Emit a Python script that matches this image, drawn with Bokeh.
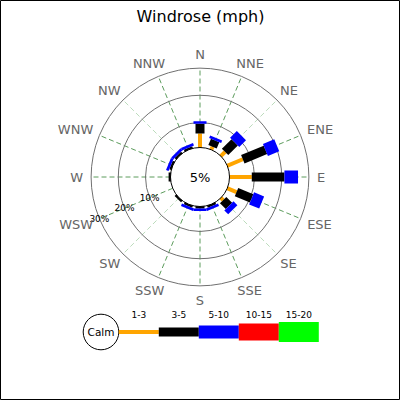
# Windrose (mph) - JpGraph風のウィンドローズをbokehで再現

import numpy as np
from bokeh.core.properties import value
from bokeh.embed import file_html
from bokeh.models import Range1d
from bokeh.plotting import figure
from bokeh.resources import INLINE

# %%
# データ (各方位の風速レンジごとの頻度 %)
directions = ["N", "NNE", "NE", "ENE", "E", "ESE", "SE", "SSE",
              "S", "SSW", "SW", "WSW", "W", "WNW", "NW", "NNW"]
r_1_3 = [6, 2, 3, 7, 9, 4.5, 2, 0.5, 0.5, 0.5, 0.5, 0, 0.5, 0.5, 0.5, 0.5]
r_3_5 = [3.5, 2.5, 5, 9, 12, 6, 3, 1, 1, 1, 1, 0, 1, 1, 1, 1]
r_5_10 = [1, 1, 3.5, 4.5, 5, 4, 2, 1, 1, 1, 0, 0, 0, 1, 1, 1]
calm = 5
ring_values = [10, 20, 30]
range_labels = ["1-3", "3-5", "5-10", "10-15", "15-20"]

# 見た目
range_colors = ["#ffa500", "#000000", "#0000ff", "#ff0000", "#00ff00"]
range_widths = [4, 9, 13, 17, 20]
FONT = "DejaVu Sans"

# スケール: 1データ単位 = 1% , K px / %
W = H = 400
K = 2.72
CX, CY = 199.5, 176.5          # 中心 (px)
BASE = 27.3 / K                # 0% の半径
CALM_R = 29.5 / K              # 中央の円


def px(X, Y):
    return (X - CX) / K, (CY - Y) / K


theta = np.deg2rad(np.arange(16) * 22.5)
ux, uy = np.sin(theta), np.cos(theta)

x_range = Range1d(start=-CX / K, end=(W - CX) / K)
y_range = Range1d(start=-(H - CY) / K, end=CY / K)
p = figure(width=W, height=H, x_range=x_range, y_range=y_range,
           output_backend="svg", toolbar_location=None, min_border=0)
p.axis.visible = False
p.grid.visible = False
p.outline_line_color = "black"
p.background_fill_color = "white"

# %%
# 放射状のグリッド (斜め45度は薄い色)
outer = BASE + ring_values[-1]
spoke_colors = ["#bcdcbc" if i % 4 == 2 else "#5c9c5c" for i in range(16)]
p.segment(CALM_R * ux, CALM_R * uy, outer * ux, outer * uy,
          line_color=spoke_colors, line_dash="5 3", line_width=1)

# 同心円
for v in ring_values:
    p.circle(0, 0, radius=BASE + v, fill_color=None, line_color="#707070", line_width=1)

# %%
# バー
ranges = [r_1_3, r_3_5, r_5_10]
cum = np.zeros(16)
for j, vals in enumerate(ranges):
    vals = np.array(vals, dtype=float)
    r1 = BASE + cum
    r2 = BASE + cum + vals
    keep = vals > 0
    p.segment((r1 * ux)[keep], (r1 * uy)[keep], (r2 * ux)[keep], (r2 * uy)[keep],
              line_color=range_colors[j], line_width=range_widths[j], line_cap="butt")
    cum = cum + vals

# 中央 (Calm)
p.circle(0, 0, radius=CALM_R, fill_color="white", line_color="black", line_width=1)
p.text(0, 0, text=[f"{calm}%"], text_font=value(FONT), text_font_size="13px",
       text_align="center", text_baseline="middle", text_color="black")

# 同心円のラベル (WSW方向)
a = np.deg2rad(247.5)
rr = np.array([BASE + v for v in ring_values])
p.text(rr * np.sin(a), rr * np.cos(a), text=[f"{v}%" for v in ring_values],
       text_font=value(FONT), text_font_size="9px", text_align="center",
       text_baseline="middle", text_color="black")

# 方位ラベル
cw = {"N": 0.748, "E": 0.632, "S": 0.635, "W": 0.989}
lab_fs = 13
lab_w = np.array([sum(cw[c] for c in d) * lab_fs for d in directions])
lab_h = 12
R_LAB = 117 / K
lx = R_LAB * ux + ux * lab_w / 2 / K
ly = R_LAB * uy + uy * lab_h / 2 / K
p.text(lx, ly, text=directions, text_font=value(FONT), text_font_size=f"{lab_fs}px",
       text_align="center", text_baseline="middle", text_color="#666666")

# タイトル
tx, ty = px(200, 16)
p.text([tx], [ty], text=["Windrose (mph)"], text_font=value(FONT), text_font_size="16px",
       text_align="center", text_baseline="middle", text_color="black")

# %%
# 凡例
lcx, lcy = px(100.5, 331.5)
p.circle([lcx], [lcy], radius=17.8 / K, fill_color="white", line_color="black", line_width=1)
p.text([lcx], [lcy], text=["Calm"], text_font=value(FONT), text_font_size="10.5px",
       text_align="center", text_baseline="middle", text_color="black")

seg_w = 40
x0 = np.array([px(118.3 + i * seg_w, 0)[0] for i in range(len(range_labels))])
x1 = x0 + seg_w / K
p.segment(x0, lcy, x1, lcy, line_color=range_colors, line_width=range_widths, line_cap="butt")
_, lty = px(0, 314)
p.text((x0 + x1) / 2, lty, text=range_labels, text_font=value(FONT), text_font_size="9px",
       text_align="center", text_baseline="middle", text_color="black")

open("out.html", "w").write(file_html(p, INLINE))
